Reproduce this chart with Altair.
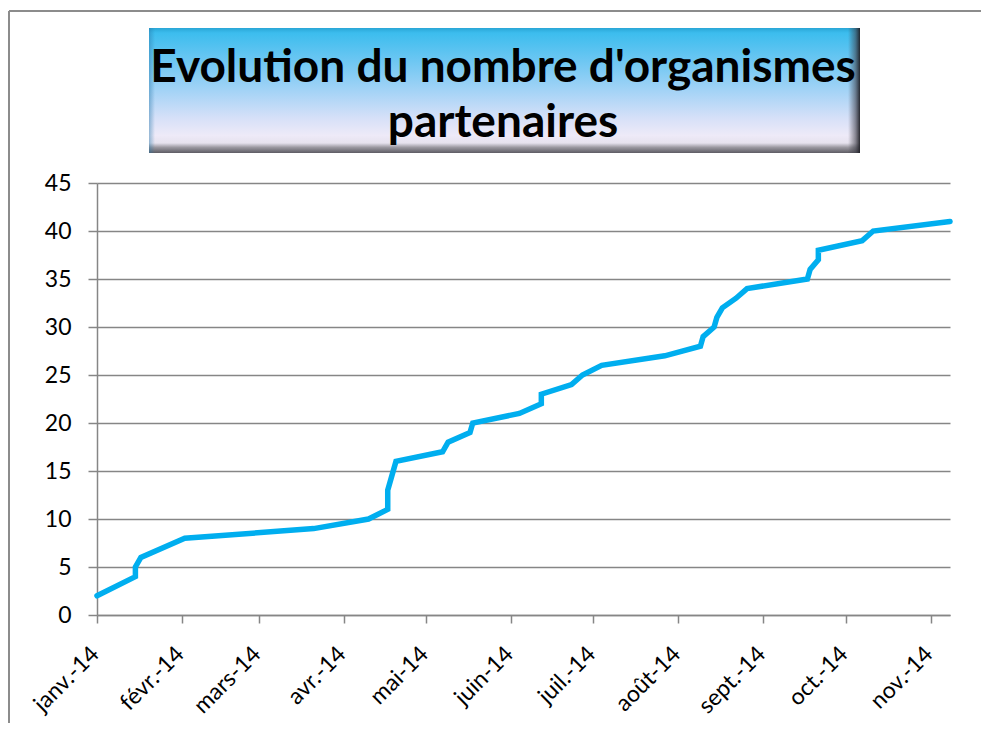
import altair as alt
import pandas as pd

# ---- data ----
dates = [
    "2014-01-01", "2014-01-15", "2014-01-15", "2014-01-17", "2014-02-02",
    "2014-03-21", "2014-04-10", "2014-04-17", "2014-04-17", "2014-04-20",
    "2014-05-07", "2014-05-09", "2014-05-17", "2014-05-18", "2014-06-04",
    "2014-06-12", "2014-06-12", "2014-06-23", "2014-06-27", "2014-07-04",
    "2014-07-27", "2014-08-09", "2014-08-10", "2014-08-14", "2014-08-15",
    "2014-08-17", "2014-08-22", "2014-08-26", "2014-09-17", "2014-09-18",
    "2014-09-21", "2014-09-21", "2014-10-07", "2014-10-11", "2014-11-08",
]
values = [
    2, 4, 5, 6, 8,
    9, 10, 11, 13, 16,
    17, 18, 19, 20, 21,
    22, 23, 24, 25, 26,
    27, 28, 29, 30, 31,
    32, 33, 34, 35, 36,
    37, 38, 39, 40, 41,
]
month_ticks = [
    "2014-01-01", "2014-02-01", "2014-03-01", "2014-04-01", "2014-05-01",
    "2014-06-01", "2014-07-01", "2014-08-01", "2014-09-01", "2014-10-01",
    "2014-11-01",
]
month_labels = ["janv.", "févr.", "mars", "avr.", "mai", "juin",
                "juil.", "août", "sept.", "oct.", "nov.", "déc."]
y_ticks = [0, 5, 10, 15, 20, 25, 30, 35, 40, 45]
title_lines = ["Evolution du nombre d'organismes", "partenaires"]

# ---- build table ----
df = pd.DataFrame({"date": dates, "value": values, "order": list(range(len(dates)))})


def to_ms(s):
    return int(pd.Timestamp(s, tz="UTC").value // 10**6)


tick_ms = [to_ms(d) for d in month_ticks]
domain_ms = [to_ms(dates[0]), to_ms(dates[-1])]

W, H = 853, 432
GRAY = "#868686"
AXFONT = "Lato"

label_expr = (
    "[" + ",".join("'%s'" % m for m in month_labels) + "][utcmonth(datum.value)] + '-14'"
)

line = alt.Chart(df).mark_line(
    color="#00AEEF", strokeWidth=5.5, strokeCap="round", strokeJoin="miter"
).encode(
    x=alt.X(
        "date:T",
        scale=alt.Scale(type="utc", domain=domain_ms, nice=False),
        axis=alt.Axis(
            title=None, values=tick_ms, labelExpr=label_expr, grid=False,
            labelAngle=-45, labelAlign="right", labelBaseline="middle",
            labelPadding=27, labelOffset=-2, tickSize=8, labelFontSize=23,
            labelFont=AXFONT, labelColor="black", domainColor=GRAY,
            tickColor=GRAY, domainWidth=1.5, tickWidth=1.5, labelOverlap=False,
        ),
    ),
    y=alt.Y(
        "value:Q",
        scale=alt.Scale(domain=[0, 45], nice=False),
        axis=alt.Axis(
            title=None, values=y_ticks, grid=True, gridColor=GRAY, gridWidth=1.5,
            tickSize=9, labelPadding=17, labelFontSize=23, labelFont=AXFONT,
            labelColor="black", domainColor=GRAY, tickColor=GRAY,
            domainWidth=1.5, tickWidth=1.5,
        ),
    ),
    order="order:Q",
)

# ---- decorations: outer frame, title box, title text ----
base = alt.Chart(pd.DataFrame({"k": [0]}))

frame_top = base.mark_rule(color="#8c8c8c", strokeWidth=2, clip=False).encode(
    x=alt.value(-88), x2=alt.value(W + 60), y=alt.value(-172)
)
frame_left = base.mark_rule(color="#8c8c8c", strokeWidth=2, clip=False).encode(
    x=alt.value(-88), y=alt.value(-172), y2=alt.value(H + 140)
)

box_grad = alt.LinearGradient(
    gradient="linear", x1=0, y1=0, x2=0, y2=1,
    stops=[
        alt.GradientStop(color="#2aa6d6", offset=0.0),
        alt.GradientStop(color="#3cbdee", offset=0.04),
        alt.GradientStop(color="#6ac6f2", offset=0.25),
        alt.GradientStop(color="#a3d3f6", offset=0.5),
        alt.GradientStop(color="#d6e0f8", offset=0.72),
        alt.GradientStop(color="#eeeaf8", offset=0.86),
        alt.GradientStop(color="#e6e2ee", offset=0.92),
        alt.GradientStop(color="#9a98a0", offset=0.955),
        alt.GradientStop(color="#5e5c64", offset=1.0),
    ],
)
title_box = base.mark_rect(color=box_grad, clip=False).encode(
    x=alt.value(52), x2=alt.value(763), y=alt.value(-155), y2=alt.value(-30)
)
right_grad = alt.LinearGradient(
    gradient="linear", x1=0, y1=0, x2=1, y2=0,
    stops=[
        alt.GradientStop(color="rgba(60,60,70,0)", offset=0.0),
        alt.GradientStop(color="rgba(60,60,70,0.55)", offset=0.6),
        alt.GradientStop(color="rgba(30,30,36,0.95)", offset=1.0),
    ],
)
right_shade = base.mark_rect(color=right_grad, clip=False).encode(
    x=alt.value(751), x2=alt.value(763), y=alt.value(-155), y2=alt.value(-30)
)
left_grad = alt.LinearGradient(
    gradient="linear", x1=0, y1=0, x2=1, y2=0,
    stops=[
        alt.GradientStop(color="rgba(40,120,170,0.45)", offset=0.0),
        alt.GradientStop(color="rgba(40,120,170,0)", offset=1.0),
    ],
)
left_shade = base.mark_rect(color=left_grad, clip=False).encode(
    x=alt.value(52), x2=alt.value(58), y=alt.value(-155), y2=alt.value(-30)
)

title_marks = []
for txt, ypos in zip(title_lines, [-101, -46]):
    title_marks.append(
        alt.Chart(pd.DataFrame({"t": [txt]})).mark_text(
            font="Lato", fontWeight="bold", fontSize=46, color="black",
            align="center", baseline="alphabetic", clip=False,
        ).encode(x=alt.value(406), y=alt.value(ypos), text="t:N")
    )

chart = alt.layer(
    frame_top, frame_left, title_box, right_shade, left_shade, *title_marks, line
).properties(
    width=W, height=H,
    autosize=alt.AutoSizeParams(type="none"),
    padding={"left": 89, "top": 175, "right": 31, "bottom": 108},
    background="white",
).configure_view(stroke=None)

chart.save("out.html", embed_options={"renderer": "svg", "actions": False})
